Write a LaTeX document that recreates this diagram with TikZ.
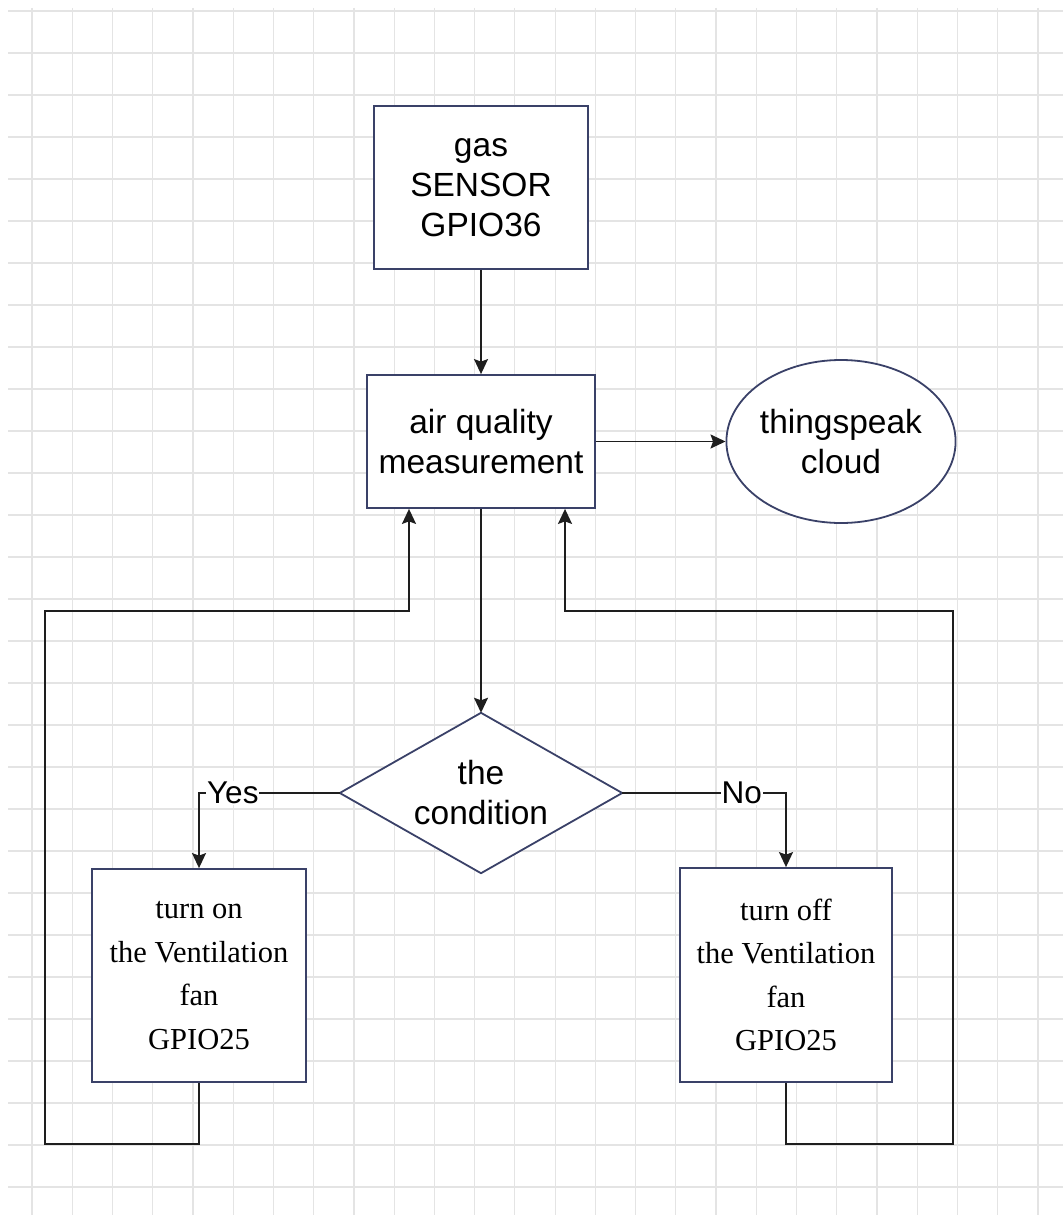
\documentclass[tikz,border=0pt]{standalone}
\usepackage{fontspec}
\setmainfont{Liberation Sans}
\newfontfamily\serifface{Liberation Serif}
\usetikzlibrary{shapes.geometric,arrows.meta,calc}

\definecolor{gridline}{HTML}{E4E4E4}
\definecolor{boxline}{HTML}{3A4168}
\definecolor{wire}{HTML}{1E1E1E}

\tikzset{
  box/.style={draw=boxline, line width=1.8pt, fill=white, align=center,
    inner sep=0pt, font=\fontsize{33.5}{40}\selectfont},
  serifbox/.style={box, font=\serifface\fontsize{30.5}{43.5}\selectfont},
  flow/.style={draw=wire, line width=1.7pt,
    -{Stealth[length=15pt,width=14pt,inset=2.5pt]}},
  tag/.style={fill=white, inner sep=1pt, font=\fontsize{31.5}{36}\selectfont},
  gridrule/.style={draw=gridline, line width=1.2pt},
}

\begin{document}
\begin{tikzpicture}[x=1pt, y=-1pt]
  % page and background grid
  \useasboundingbox (0,0) rectangle (1063,1215);
  \fill[white] (0,0) rectangle (1063,1215);
  \begin{scope}
    \clip (0,0) rectangle (1063,1215);
    \foreach \k in {0,...,25}
      \draw[gridrule] ({32+40.24*\k},8) -- ({32+40.24*\k},1215);
    \foreach \k in {0,...,28}
      \draw[gridrule] (8,{11+42*\k}) -- (1063,{11+42*\k});
  \end{scope}

  % blocks
  \node[box, minimum width=214, minimum height=163] (gas) at (481,187.5)
    {gas\\SENSOR\\GPIO36};
  \node[box, minimum width=228, minimum height=133] (air) at (481,441.5)
    {air quality\\measurement};
  \node[box, ellipse, minimum width=229, minimum height=163] (cloud) at (841,441.5)
    {thingspeak\\cloud};
  % decision: frame node, drawn as a rhombus through its side anchors
  \node[inner sep=0pt, minimum width=282, minimum height=160] (dia) at (481,793) {};
  \draw[draw=boxline, line width=1.8pt, fill=white]
    (dia.north) -- (dia.east) -- (dia.south) -- (dia.west) -- cycle;
  \node[align=center, inner sep=0pt, font=\fontsize{33.5}{40}\selectfont]
    (diatext) at (dia.center) {the\\condition};
  \node[serifbox, minimum width=214, minimum height=213] (on) at (199,975.5)
    {turn on\\the Ventilation\\fan\\GPIO25};
  \node[serifbox, minimum width=212, minimum height=214] (off) at (786,975)
    {turn off\\the Ventilation\\fan\\GPIO25};

  % loop corners
  \coordinate (lb) at (45,1144);
  \coordinate (lt) at (45,611);
  \coordinate (rb) at (953,1144);
  \coordinate (rt) at (953,611);

  % connectors
  \draw[flow] (gas.south) -- (air.north);
  \draw[flow] (air.east) -- (cloud.west);
  \draw[flow] (air.south) -- (dia.north);
  \draw[flow] (dia.west) -- node[tag, pos=0.76] {Yes} (dia.west -| on.north) -- (on.north);
  \draw[flow] (dia.east) -- node[tag, pos=0.73] {No} (dia.east -| off.north) -- (off.north);
  \draw[flow] (on.south) |- (lb) -- (lt) -| ([xshift=-72pt]air.south);
  \draw[flow] (off.south) |- (rb) -- (rt) -| ([xshift=84pt]air.south);
\end{tikzpicture}
\end{document}
